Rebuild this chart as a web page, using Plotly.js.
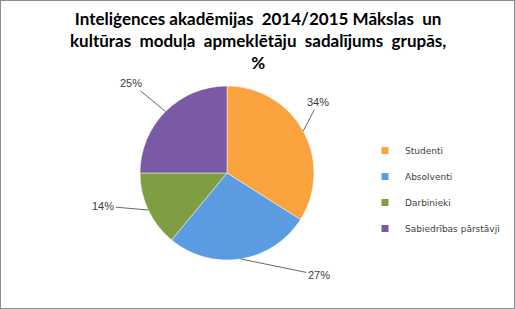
<!DOCTYPE html>
<html><head><meta charset="utf-8">
<script src="https://cdn.plot.ly/plotly-3.0.1.min.js"></script>
<style>html,body{margin:0;padding:0;background:#fff}#c{width:513px;height:307px;border:1px solid #8c8c8c}</style>
</head><body><div id="c"></div>
<script>
const categories = ['Studenti', 'Absolventi', 'Darbinieki', 'Sabiedrības pārstāvji'];
const values = [34, 27, 14, 25];
const colors = ['#F9A23E', '#5B9BDF', '#7F9E43', '#7A59A5'];
const titleText = 'Inteliģences akadēmijas  2014/2015 Mākslas  un<br>kultūras  moduļa  apmeklētāju  sadalījums  grupās,<br>%';

const W = 513, H = 307;
// pie geometry (pixels)
const cx = 226, cy = 172, R = 87;
// label offsets (style, pixels from slice edge)
const labelOffsets = [[15, -29], [78, 16], [-45, -4], [-34, -28]];

const total = values.reduce((a, b) => a + b, 0);
let cum = 0;
const annotations = values.map((v, i) => {
  const mid = (cum + v / 2) / total * 2 * Math.PI;
  cum += v;
  const px = cx + R * Math.sin(mid), py = cy - R * Math.cos(mid);
  return {
    x: px / W, y: 1 - py / H, xref: 'paper', yref: 'paper',
    text: Math.round(v / total * 100) + '%',
    showarrow: true, arrowhead: 0, arrowwidth: 0.8, arrowcolor: '#404040',
    ax: labelOffsets[i][0], ay: labelOffsets[i][1], standoff: 0,
    font: {family: 'Liberation Sans, Arial, sans-serif', size: 11, color: '#404040'}
  };
});
annotations.push({
  x: 0.5, y: 1 - 5 / H, xref: 'paper', yref: 'paper', xanchor: 'center', yanchor: 'top',
  showarrow: false, text: titleText,
  font: {family: 'Lato, Open Sans, sans-serif', size: 17, color: '#000', weight: 'bold'}
});

const traces = [{
  type: 'pie',
  labels: categories,
  values: values,
  sort: false,
  direction: 'clockwise',
  rotation: 0,
  marker: {colors: colors, line: {color: 'rgba(255,255,255,0.6)', width: 0.8}},
  textinfo: 'none',
  domain: {x: [(cx - R) / W, (cx + R) / W], y: [1 - (cy + R) / H, 1 - (cy - R) / H]},
  showlegend: false,
  hoverinfo: 'label+percent'
}];
categories.forEach((c, i) => traces.push({
  type: 'scatter', mode: 'markers', x: [null], y: [null], name: c,
  legendgroup: 'g' + i,
  marker: {symbol: 'square', size: 7, color: colors[i]}
}));

Plotly.newPlot('c', traces, {
  width: W, height: H,
  margin: {l: 0, r: 0, t: 0, b: 0},
  paper_bgcolor: '#fff', plot_bgcolor: 'rgba(0,0,0,0)',
  xaxis: {visible: false}, yaxis: {visible: false},
  annotations: annotations,
  showlegend: true,
  legend: {x: 364 / W, xanchor: 'left', y: 1 - 135 / H, yanchor: 'top',
           font: {family: 'DejaVu Sans, sans-serif', size: 9, color: '#404040'},
           itemwidth: 30, tracegroupgap: 7}
}, {displayModeBar: false, staticPlot: true});
</script></body></html>
